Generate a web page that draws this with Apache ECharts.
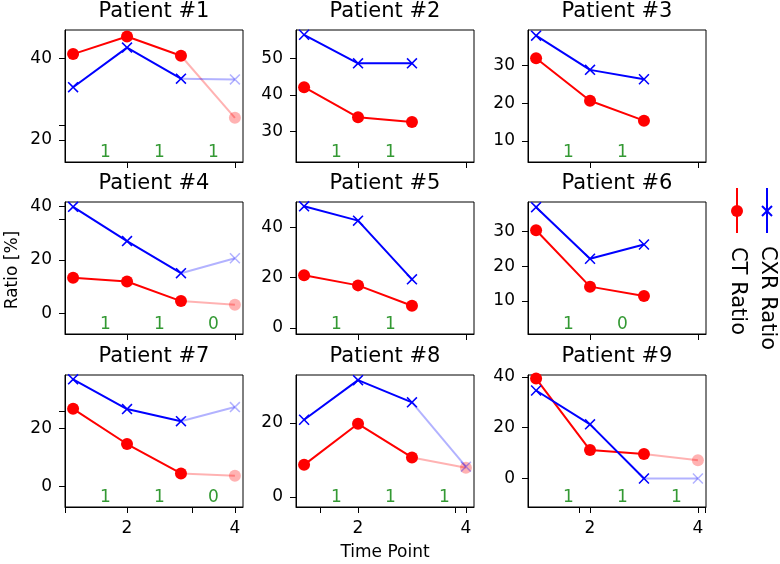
<!DOCTYPE html>
<html>
<head>
<meta charset="utf-8">
<script src="https://cdn.jsdelivr.net/npm/echarts@6/dist/echarts.min.js"></script>
<style>html,body{margin:0;padding:0;background:#fff}#c{width:780px;height:564px}</style>
</head>
<body>
<div id="c"></div>
<script>
// ---------- data ----------
const patients = ['Patient #1','Patient #2','Patient #3','Patient #4','Patient #5','Patient #6','Patient #7','Patient #8','Patient #9'];
const timePoints = [1, 2, 3, 4];
const ctRatio = [
  [41.0, 45.3, 40.6, 25.4],
  [42.1, 33.9, 32.6, null],
  [32.0, 20.7, 15.4, null],
  [13.3, 11.9, 4.6, 3.2],
  [20.9, 16.9, 8.8, null],
  [30.3, 14.1, 11.4, null],
  [26.8, 14.6, 4.4, 3.6],
  [8.7, 19.8, 10.7, 7.9],
  [39.3, 11.2, 9.6, 7.2]
];
const cxrRatio = [
  [32.9, 42.6, 35.0, 34.8],
  [56.4, 48.6, 48.6, null],
  [38.0, 28.9, 26.4, null],
  [39.8, 27.0, 15.0, 20.6],
  [48.3, 42.6, 19.3, null],
  [36.9, 22.1, 26.2, null],
  [37.0, 26.7, 22.5, 27.4],
  [20.9, 31.6, 25.6, 8.2],
  [34.6, 21.3, 0.0, 0.0]
];
const agreement = [[1,1,1],[1,1],[1,1],[1,1,0],[1,1],[1,0],[1,1,0],[1,1,1],[1,1,1]];
const xTickLabels = [2, 4];
const xExtraTicks = [[],[],[],[],[],[],[0.86,3.2],[1.3,3.8],[1.8,4.13]];
const yTickLabels = [[20,40],[30,40,50],[10,20,30],[0,20,40],[0,20,40],[10,20,30],[0,20],[0,20],[0,20,40]];
const yExtraTicks = [[23.5],[],[],[35],[],[],[26],[],[]];
const yLimits = [[14.6,46.9],[21.7,57.7],[4.4,39.5],[-7.7,41.6],[-2.4,50.0],[0.5,38.4],[-7.2,38.5],[-2.7,33.0],[-11.2,40.7]];
const xLimits = [0.85, 4.15];
const seriesNames = ['CT Ratio', 'CXR Ratio'];

// ---------- layout ----------
const FONT = 'DejaVu Sans';
const colLeft = [65, 296, 528];
const rowTop = [30, 202, 375];
const PW = 178, PH = 132;
const RED = '#ff0000', BLUE = '#0000ff', GREEN = '#008000';
const FADE = 0.3;
const X_PATH = 'path://M0,1L1,0L5,4L9,0L10,1L6,5L10,9L9,10L5,6L1,10L0,9L4,5Z';

const grids = [], xAxes = [], yAxes = [], series = [], graphics = [];

for (let i = 0; i < 9; i++) {
  const r = Math.floor(i / 3), c = i % 3;
  grids.push({left: colLeft[c], top: rowTop[r], width: PW, height: PH,
    show: true, borderColor: '#000', borderWidth: 1, backgroundColor: 'transparent'});
  xAxes.push({type: 'value', gridIndex: i, min: xLimits[0], max: xLimits[1],
    axisLine: {show: true, onZero: false, lineStyle: {color: '#000', width: 1}},
    axisTick: {show: true, inside: false, length: 6, lineStyle: {color: '#000', width: 1},
      customValues: xTickLabels.concat(xExtraTicks[i])},
    axisLabel: {show: r === 2, customValues: xTickLabels, color: '#000', fontSize: 17, fontFamily: FONT, margin: 13},
    splitLine: {show: false}});
  yAxes.push({type: 'value', gridIndex: i, min: yLimits[i][0], max: yLimits[i][1],
    axisLine: {show: true, onZero: false, lineStyle: {color: '#000', width: 1}},
    axisTick: {show: true, inside: false, length: 6, lineStyle: {color: '#000', width: 1},
      customValues: yTickLabels[i].concat(yExtraTicks[i])},
    axisLabel: {show: true, customValues: yTickLabels[i], color: '#000', fontSize: 17, fontFamily: FONT, margin: 13},
    splitLine: {show: false}});
}
// hidden 0..1 axes for the agreement annotations
for (let i = 0; i < 9; i++) {
  yAxes.push({type: 'value', gridIndex: i, min: 0, max: 1, show: false});
}

function addSeries(i, vals, name, color, symbol, size) {
  const solid = [], faded = [];
  for (let k = 0; k < 3; k++) if (vals[k] != null) solid.push([timePoints[k], vals[k]]);
  if (vals[3] != null) {
    faded.push({value: [timePoints[2], vals[2]], symbol: 'none'});
    faded.push([timePoints[3], vals[3]]);
    series.push({type: 'line', name: name, xAxisIndex: i, yAxisIndex: i, data: faded,
      symbol: symbol, symbolSize: size, showAllSymbol: true, silent: true,
      lineStyle: {color: color, width: 2, opacity: FADE},
      itemStyle: {color: color, opacity: FADE}});
  }
  series.push({type: 'line', name: name, xAxisIndex: i, yAxisIndex: i, data: solid,
    symbol: symbol, symbolSize: size, showAllSymbol: true, silent: true,
    lineStyle: {color: color, width: 2},
    itemStyle: {color: color}});
}

for (let i = 0; i < 9; i++) {
  addSeries(i, ctRatio[i], seriesNames[0], RED, 'circle', 12);
  addSeries(i, cxrRatio[i], seriesNames[1], BLUE, X_PATH, 11);
  series.push({type: 'scatter', xAxisIndex: i, yAxisIndex: 9 + i, symbolSize: 0, silent: true,
    data: agreement[i].map((v, k) => [(timePoints[k] + timePoints[k + 1]) / 2, 0.075, v]),
    label: {show: true, position: 'right', distance: 0, formatter: p => String(p.value[2]),
      color: GREEN, fontSize: 17, fontFamily: FONT}});
  const r = Math.floor(i / 3), c = i % 3;
  graphics.push({type: 'text', x: colLeft[c] + PW / 2, y: rowTop[r] - 18,
    style: {text: patients[i], fill: '#000', font: '21px "DejaVu Sans"', align: 'center', verticalAlign: 'middle'}});
}

graphics.push({type: 'text', x: colLeft[1] + PW / 2, y: 553,
  style: {text: 'Time Point', fill: '#000', font: '17px "DejaVu Sans"', align: 'center', verticalAlign: 'middle'}});
graphics.push({type: 'text', x: 13, y: 270, rotation: Math.PI / 2,
  style: {text: 'Ratio [%]', fill: '#000', font: '17px "DejaVu Sans"', align: 'center', verticalAlign: 'middle'}});

// legend (rotated)
graphics.push({type: 'line', shape: {x1: 737, y1: 188, x2: 737, y2: 233}, style: {stroke: RED, lineWidth: 2}});
graphics.push({type: 'circle', shape: {cx: 737, cy: 211, r: 6}, style: {fill: RED}});
graphics.push({type: 'line', shape: {x1: 767, y1: 188, x2: 767, y2: 233}, style: {stroke: BLUE, lineWidth: 2}});
graphics.push({type: 'line', shape: {x1: 762, y1: 206, x2: 772, y2: 216}, style: {stroke: BLUE, lineWidth: 2}});
graphics.push({type: 'line', shape: {x1: 772, y1: 206, x2: 762, y2: 216}, style: {stroke: BLUE, lineWidth: 2}});
graphics.push({type: 'text', x: 737, y: 291, rotation: -Math.PI / 2,
  style: {text: seriesNames[0], fill: '#000', font: '21px "DejaVu Sans"', align: 'center', verticalAlign: 'middle'}});
graphics.push({type: 'text', x: 767, y: 298, rotation: -Math.PI / 2,
  style: {text: seriesNames[1], fill: '#000', font: '21px "DejaVu Sans"', align: 'center', verticalAlign: 'middle'}});

const chart = echarts.init(document.getElementById('c'), null, {renderer: 'canvas'});
chart.setOption({
  animation: false,
  backgroundColor: '#fff',
  textStyle: {fontFamily: FONT},
  grid: grids, xAxis: xAxes, yAxis: yAxes, series: series, graphic: graphics
});
</script>
</body>
</html>
